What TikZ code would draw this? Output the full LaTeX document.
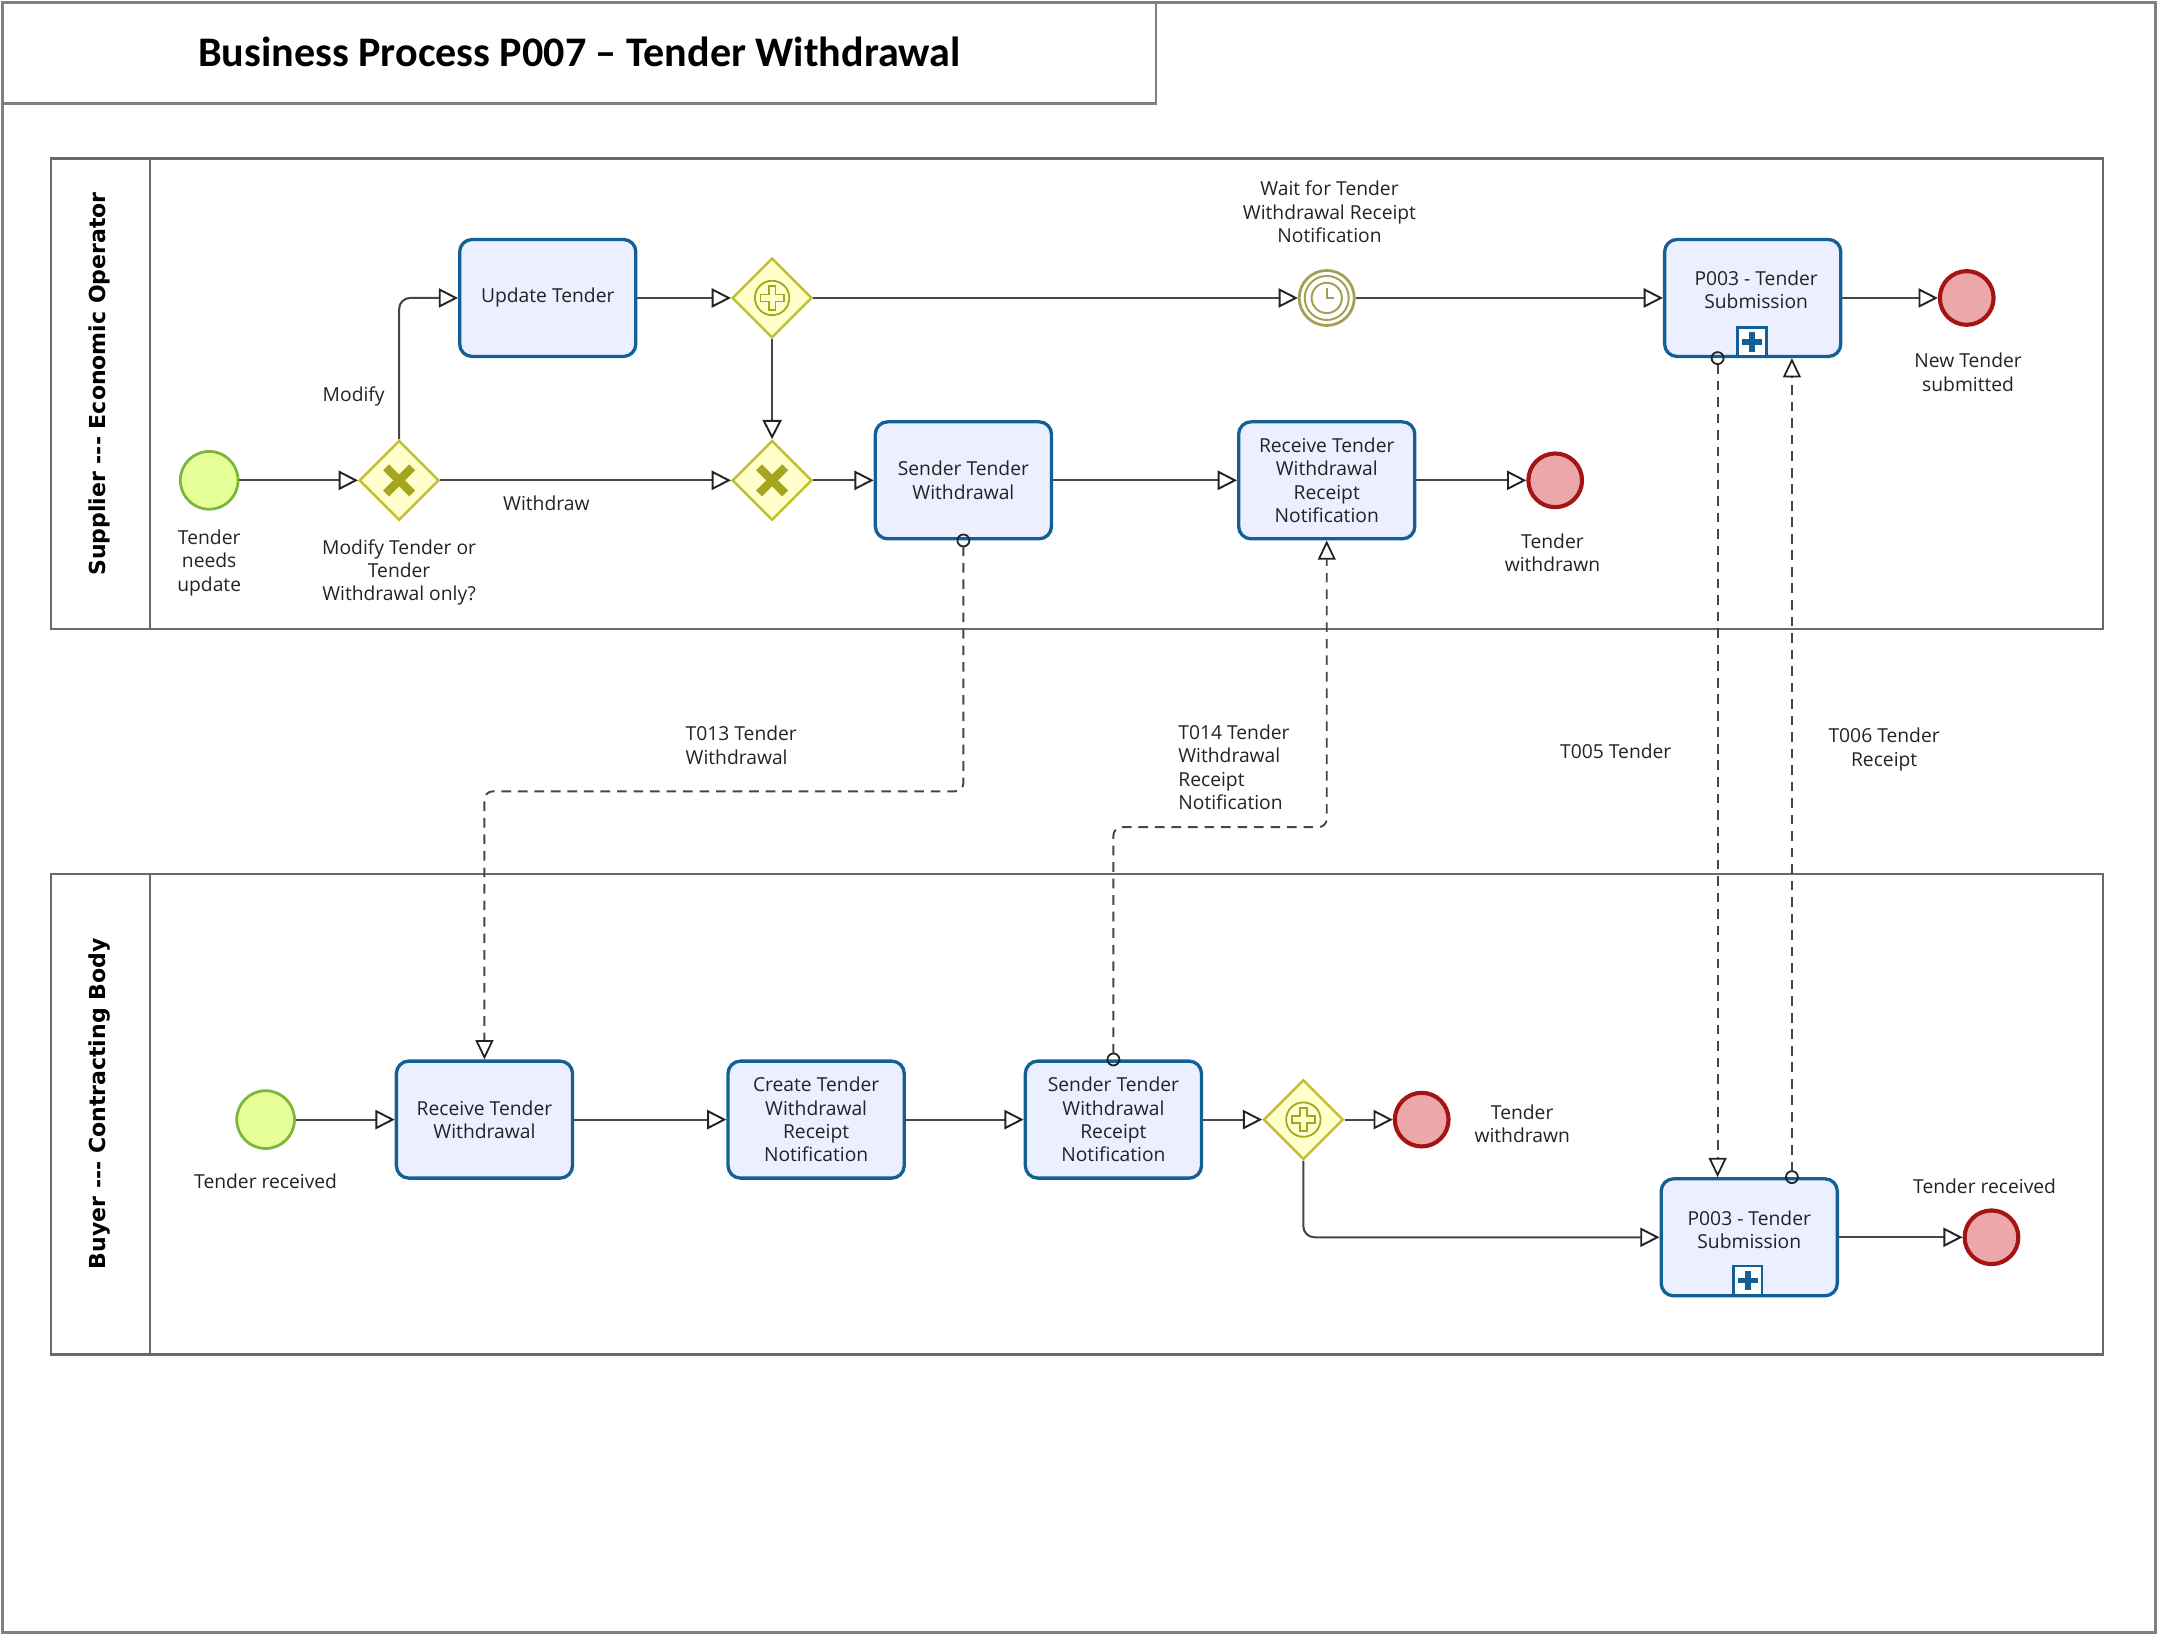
\documentclass[tikz,border=0pt]{standalone}
\usepackage{fontspec}
\setmainfont{Open Sans}
\newfontfamily\titlefont{Carlito}
\newfontfamily\lanefont{DejaVu Sans}
\usetikzlibrary{shapes.geometric,arrows.meta,calc}
\definecolor{framec}{RGB}{128,128,128}
\definecolor{poolc}{RGB}{105,105,105}
\definecolor{taskfill}{RGB}{235,239,255}
\definecolor{taskc}{RGB}{20,96,150}
\definecolor{startfill}{RGB}{230,255,150}
\definecolor{startc}{RGB}{122,182,60}
\definecolor{endfill}{RGB}{236,168,168}
\definecolor{endc}{RGB}{165,20,20}
\definecolor{gwfill}{RGB}{255,255,204}
\definecolor{gwc}{RGB}{192,192,50}
\definecolor{gwmark}{RGB}{165,165,30}
\definecolor{timerc}{RGB}{160,160,80}
\definecolor{flowc}{RGB}{70,70,70}
\definecolor{txtc}{RGB}{35,35,35}
\begin{document}
\begin{tikzpicture}[x=1pt,y=-1pt,
  every node/.style={font=\fontsize{14}{17}\selectfont, text=txtc},
  task/.style={draw=taskc, fill=taskfill, line width=2.4pt, rounded corners=9pt,
    minimum width=128pt, minimum height=85pt, inner sep=2pt, align=center},
  startev/.style={circle, draw=startc, fill=startfill, line width=2pt, minimum size=42pt, inner sep=0pt},
  endev/.style={circle, draw=endc, fill=endfill, line width=3pt, minimum size=39pt, inner sep=0pt},
  gw/.style={diamond, aspect=1, draw=gwc, fill=gwfill, line width=1.8pt, minimum width=58pt, minimum height=58pt, inner sep=0pt},
  timer/.style={circle, draw=timerc, fill=white, line width=2pt, minimum size=40pt, inner sep=0pt},
  lbl/.style={align=center, inner sep=0pt},
  lbll/.style={align=left, inner sep=0pt, anchor=west},
  seq/.style={draw=flowc, line width=1.5pt, rounded corners=8pt,
    -{Triangle[open, length=14pt, width=14pt, line width=1.4pt, color=txtc]}},
  msg/.style={draw=flowc, line width=1.4pt, dash pattern=on 7pt off 5pt, rounded corners=6pt,
    {Circle[open, length=10pt, width=10pt, line width=1.3pt, color=txtc]}-{Triangle[open, length=14pt, width=13pt, line width=1.3pt, color=txtc]},
    shorten <=-5pt},
  xmk/.style={draw=gwmark, line width=6pt},
  pmk/.style={draw=gwmark, line width=1.3pt},
  submk/.style={draw=taskc, fill=white, line width=1.6pt, minimum size=21pt, inner sep=0pt},
  pool/.style={draw=poolc, line width=2pt},
  lane/.style={font=\lanefont\bfseries\fontsize{16}{19}\selectfont, rotate=90, text=black}
]
\useasboundingbox (0,0) rectangle (1568,1188);
% frame and title
\draw[framec, line width=2pt] (2,2) rectangle (1566,1186);
\draw[framec, line width=2pt] (2,2) rectangle (840,75);
\node[text=black, font=\titlefont\bfseries\fontsize{30.6}{36}\selectfont] (title) at (421,38) {Business Process P007 – Tender Withdrawal};

% pools
\draw[pool] (37,115) rectangle (1528,457);
\draw[pool] (109,115) -- (109,457);
\node[lane] (lane1) at (72,279) {Supplier --- Economic Operator};
\draw[pool] (37,635) rectangle (1528,984);
\draw[pool] (109,635) -- (109,984);
\node[lane] (lane2) at (72,802) {Buyer --- Contracting Body};

% ---------- top lane ----------
\node[startev] (s1) at (152,349) {};
\node[lbl] (s1l) at (152,409) {Tender\\needs\\update};
\node[gw] (g1) at (290,349) {};
\draw[xmk] (g1.center) ++(-9.5,-9.5) -- ++(19,19);
\draw[xmk] (g1.center) ++(9.5,-9.5) -- ++(-19,19);
\node[lbl] (g1l) at (290,416) {Modify Tender or\\Tender\\Withdrawal only?};
\node[task] (ut) at (398,216.5) {Update Tender};
\node[gw] (pg1) at (561,216.5) {};
\draw[pmk] (pg1.center) circle (12.5);
\draw[pmk, fill=gwfill] (pg1.center) ++(-2.5,-8.5) -- ++(5,0) -- ++(0,6) -- ++(6,0) -- ++(0,5) -- ++(-6,0) -- ++(0,6) -- ++(-5,0) -- ++(0,-6) -- ++(-6,0) -- ++(0,-5) -- ++(6,0) -- cycle;
\node[gw] (g2) at (561,349) {};
\draw[xmk] (g2.center) ++(-9.5,-9.5) -- ++(19,19);
\draw[xmk] (g2.center) ++(9.5,-9.5) -- ++(-19,19);
\node[task] (stw) at (700,349) {Sender Tender\\Withdrawal};
\node[task] (rtw) at (964,349) {Receive Tender\\Withdrawal\\Receipt\\Notification};
\node[endev] (e1) at (1130,349) {};
\node[lbl] (e1l) at (1128,401.5) {Tender\\withdrawn};
\node[timer] (tm) at (964,216.5) {};
\draw[timerc, line width=1.4pt] (tm.center) circle (16);
\draw[timerc, line width=1.4pt] (tm.center) circle (11);
\draw[timerc, line width=1.4pt] (tm.center) ++(0,-7) -- ++(0,7) -- ++(5,0);
\node[lbl] (tml) at (966,154) {Wait for Tender\\Withdrawal Receipt\\Notification};
\node[task] (p3a) at (1273.5,216.5) {};
\node[lbl] (p3at) at (1276,210.5) {P003 - Tender\\Submission};
\node[submk] (m1) at (1273,248.5) {};
\fill[taskc] (m1.center) ++(-2,-7) rectangle ++(4,14);
\fill[taskc] (m1.center) ++(-7,-2) rectangle ++(14,4);
\node[endev] (e2) at (1429,216.5) {};
\node[lbl] (e2l) at (1430,270.5) {New Tender\\submitted};

\draw[seq] (s1) -- (g1);
\draw[seq] (g1.north) |- (ut.west);
\node[lbl] (modl) at (257,288) {Modify};
\draw[seq] (g1) -- (g2);
\node[lbl] (wdl) at (397,366) {Withdraw};
\draw[seq] (ut) -- (pg1);
\draw[seq] (pg1) -- (tm);
\draw[seq] (tm) -- (p3a);
\draw[seq] (p3a) -- (e2);
\draw[seq] (pg1) -- (g2);
\draw[seq] (g2) -- (stw);
\draw[seq] (stw) -- (rtw);
\draw[seq] (rtw) -- (e1);

% ---------- bottom lane ----------
\node[startev] (s2) at (193,813.5) {};
\node[lbl] (s2l) at (193,858) {Tender received};
\node[task] (rw) at (352,813.5) {Receive Tender\\Withdrawal};
\node[task] (ct) at (593,813.5) {Create Tender\\Withdrawal\\Receipt\\Notification};
\node[task] (sn) at (809,813.5) {Sender Tender\\Withdrawal\\Receipt\\Notification};
\node[gw] (pg2) at (947,813.5) {};
\draw[pmk] (pg2.center) circle (12.5);
\draw[pmk, fill=gwfill] (pg2.center) ++(-2.5,-8.5) -- ++(5,0) -- ++(0,6) -- ++(6,0) -- ++(0,5) -- ++(-6,0) -- ++(0,6) -- ++(-5,0) -- ++(0,-6) -- ++(-6,0) -- ++(0,-5) -- ++(6,0) -- cycle;
\node[endev] (e3) at (1033,813.5) {};
\node[lbl] (e3l) at (1106,816.5) {Tender\\withdrawn};
\node[task] (p3b) at (1271,899) {};
\node[lbl] (p3bt) at (1271,893.5) {P003 - Tender\\Submission};
\node[submk] (m2) at (1270,930.5) {};
\fill[taskc] (m2.center) ++(-2,-7) rectangle ++(4,14);
\fill[taskc] (m2.center) ++(-7,-2) rectangle ++(14,4);
\node[endev] (e4) at (1447,899) {};
\node[lbl] (e4l) at (1442,862) {Tender received};

\draw[seq] (s2) -- (rw);
\draw[seq] (rw) -- (ct);
\draw[seq] (ct) -- (sn);
\draw[seq] (sn) -- (pg2);
\draw[seq] (pg2) -- (e3);
\draw[seq] (pg2.south) |- (p3b.west);
\draw[seq] (p3b) -- (e4);

% ---------- message flows ----------
\coordinate (c13) at (352,575);
\coordinate (c14) at (964,601);
\coordinate (c05) at (1248,0);
\coordinate (c06) at (1302,0);
\draw[msg] (stw.south) |- (c13) -- (rw.north);
\node[lbll] (t13) at (498,541.5) {T013 Tender\\Withdrawal};
\draw[msg] (sn.north) |- (c14) -- (rtw.south);
\node[lbll] (t14) at (856,557.5) {T014 Tender\\Withdrawal\\Receipt\\Notification};
\draw[msg] (p3a.south -| c05) -- (p3b.north -| c05);
\node[lbl] (t05) at (1174,546) {T005 Tender};
\draw[msg] (p3b.north -| c06) -- (p3a.south -| c06);
\node[lbl] (t06) at (1369,544.5) {T006 Tender\\Receipt};
\end{tikzpicture}
\end{document}
